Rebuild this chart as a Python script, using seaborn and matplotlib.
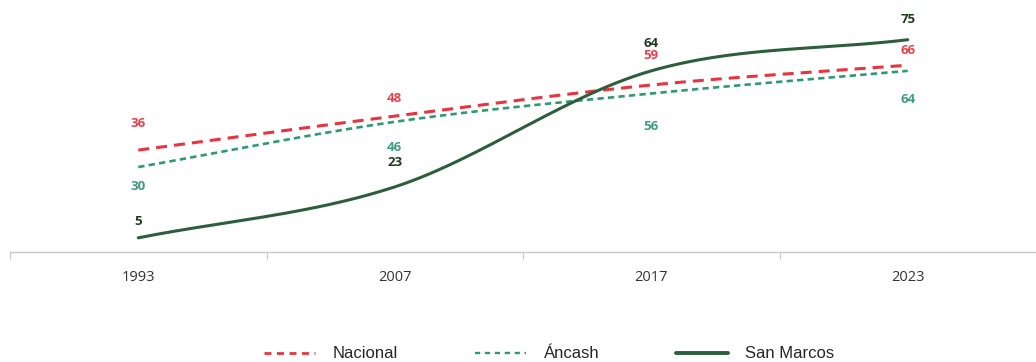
import numpy as np
import pandas as pd
import matplotlib
matplotlib.use("Agg")
import matplotlib.pyplot as plt
import seaborn as sns
from matplotlib.lines import Line2D

# data
years = ['1993', '2007', '2017', '2023']
nacional = [36, 48, 59, 66]
ancash = [30, 46, 56, 64]
san_marcos = [5, 23, 64, 75]

# label offsets in pixels (vertical), one per point
off_nacional = [27, 18, 30, 15]
off_ancash = [-19, -26, -33, -29]
off_san_marcos = [16, 24, 27, 20]

c_nac = '#E8343F'
c_anc = '#2E9A72'
c_sm = '#2D5E3C'
c_nac_txt = '#E6404B'
c_anc_txt = '#3D9C7A'
c_sm_txt = '#1E3A1E'


def smooth(y, n=60):
    # Catmull-Rom style smoothing through the points (like a spreadsheet "smoothed line")
    y = np.asarray(y, dtype=float)
    x = np.arange(len(y), dtype=float)
    p = np.concatenate([[2 * y[0] - y[1]], y, [2 * y[-1] - y[-2]]])
    xs, ys = [], []
    for i in range(len(y) - 1):
        p0, p1, p2, p3 = p[i], p[i + 1], p[i + 2], p[i + 3]
        t = np.linspace(0, 1, n, endpoint=(i == len(y) - 2))
        yy = 0.5 * ((2 * p1) + (-p0 + p2) * t + (2 * p0 - 5 * p1 + 4 * p2 - p3) * t ** 2
                    + (-p0 + 3 * p1 - 3 * p2 + p3) * t ** 3)
        xs.append(x[i] + t)
        ys.append(yy)
    return np.concatenate(xs), np.concatenate(ys)


sns.set_style("white")
plt.rcParams['font.family'] = ['Open Sans', 'DejaVu Sans']

fig = plt.figure(figsize=(10.36, 3.62), dpi=100)
ax = fig.add_axes([10 / 1036, 110 / 362, 1026 / 1036, 242 / 362])

series = [
    ('Nacional', nacional, c_nac, (0, (3.6, 2.3)), 2.2, c_nac_txt, off_nacional),
    ('Áncash', ancash, c_anc, (0, (2.4, 1.6)), 1.9, c_anc_txt, off_ancash),
    ('San Marcos', san_marcos, c_sm, '-', 2.2, c_sm_txt, off_san_marcos),
]

for name, vals, col, ls, lw, tcol, offs in series:
    xs, ys = smooth(vals)
    sns.lineplot(x=xs, y=ys, ax=ax, color=col, linestyle=ls, linewidth=lw, sort=False)

for name, vals, col, ls, lw, tcol, offs in series:
    for i, v in enumerate(vals):
        ax.annotate(str(v), (i, v), xytext=(0, offs[i] * 0.72), textcoords='offset points',
                    ha='center', va='center', fontsize=9.5, fontweight='bold', color=tcol)

ax.set_xlim(-0.488, 3.46)
ax.set_ylim(0, 85.5)
ax.set_yticks([])
ax.set_xticks(range(len(years)))
ax.set_xticklabels(years, fontsize=10.5, color='#333333')
ax.set_xticks([-0.5, 0.5, 1.5, 2.5, 3.5], minor=True)
ax.tick_params(axis='x', which='major', length=0, pad=13)
ax.tick_params(axis='x', which='minor', bottom=True, length=5, width=0.8,
               color='#c8c8c8', direction='out')
for s in ['top', 'right', 'left']:
    ax.spines[s].set_visible(False)
ax.spines['bottom'].set_color('#c8c8c8')
ax.spines['bottom'].set_linewidth(1.0)

handles = [
    Line2D([], [], color=c_nac, linestyle=(0, (2.5, 2.0)), linewidth=2.0),
    Line2D([], [], color=c_anc, linestyle=(0, (2.2, 2.0)), linewidth=1.7),
    Line2D([], [], color=c_sm, linestyle='-', linewidth=2.8),
]
fig.legend(handles, ['Nacional', 'Áncash', 'San Marcos'], loc='lower center',
           bbox_to_anchor=(0.53, -0.04), ncol=3, frameon=False, handlelength=3.1,
           columnspacing=4.6, handletextpad=1.05,
           prop={'family': 'Liberation Sans', 'size': 12})

fig.savefig('out.png', dpi=100, facecolor='white')
